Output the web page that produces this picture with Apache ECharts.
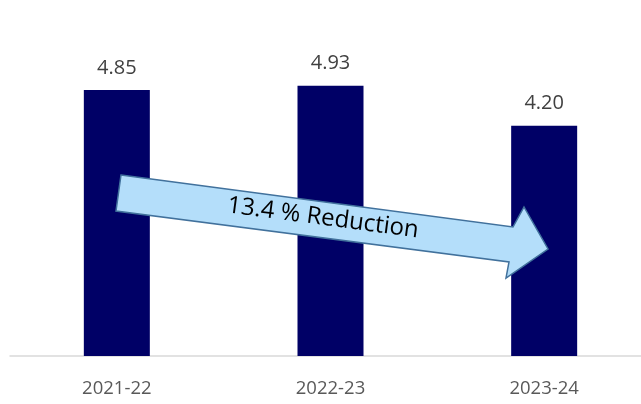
<!DOCTYPE html>
<html>
<head>
<meta charset="utf-8">
<script src="https://cdn.jsdelivr.net/npm/echarts@6/dist/echarts.min.js"></script>
<style>
  html, body { margin: 0; padding: 0; background: #fff; }
  #chart { width: 641px; height: 404px; }
</style>
</head>
<body>
<div id="chart"></div>
<script>
var years = ['2021-22', '2022-23', '2023-24'];
var values = [4.85, 4.93, 4.20];
var arrowText = '13.4 % Reduction';

var chart = echarts.init(document.getElementById('chart'));

var option = {
  animation: false,
  textStyle: { fontFamily: 'Open Sans' },
  grid: { left: 10, right: -10, top: 27, bottom: 48, outerBoundsMode: 'none', containLabel: false },
  xAxis: {
    type: 'category',
    data: years,
    axisLine: { lineStyle: { color: '#d9d9d9', width: 1.5 } },
    axisTick: { show: false },
    axisLabel: { color: '#595959', fontSize: 18.5, margin: 23 }
  },
  yAxis: {
    type: 'value',
    min: 0,
    max: 6,
    show: false,
    splitLine: { show: false }
  },
  series: [{
    type: 'bar',
    data: values,
    barWidth: 66,
    itemStyle: { color: '#000066' },
    label: {
      show: true,
      position: 'top',
      distance: 12,
      color: '#404040',
      fontSize: 20,
      formatter: function (p) { return p.value.toFixed(2); }
    }
  }],
  graphic: [{
    type: 'polygon',
    shape: {
      points: [[121, 175], [513, 227], [524, 207], [548, 249], [506, 278], [509, 262], [116, 211]]
    },
    style: { fill: '#b4defa', stroke: '#41719c', lineWidth: 1.5 },
    z: 10
  }, {
    type: 'text',
    x: 323,
    y: 218,
    rotation: -7.5 * Math.PI / 180,
    style: {
      text: arrowText,
      fill: '#000',
      fontSize: 24,
      fontFamily: 'Open Sans',
      align: 'center',
      verticalAlign: 'middle'
    },
    z: 11
  }]
};

chart.setOption(option);
</script>
</body>
</html>
